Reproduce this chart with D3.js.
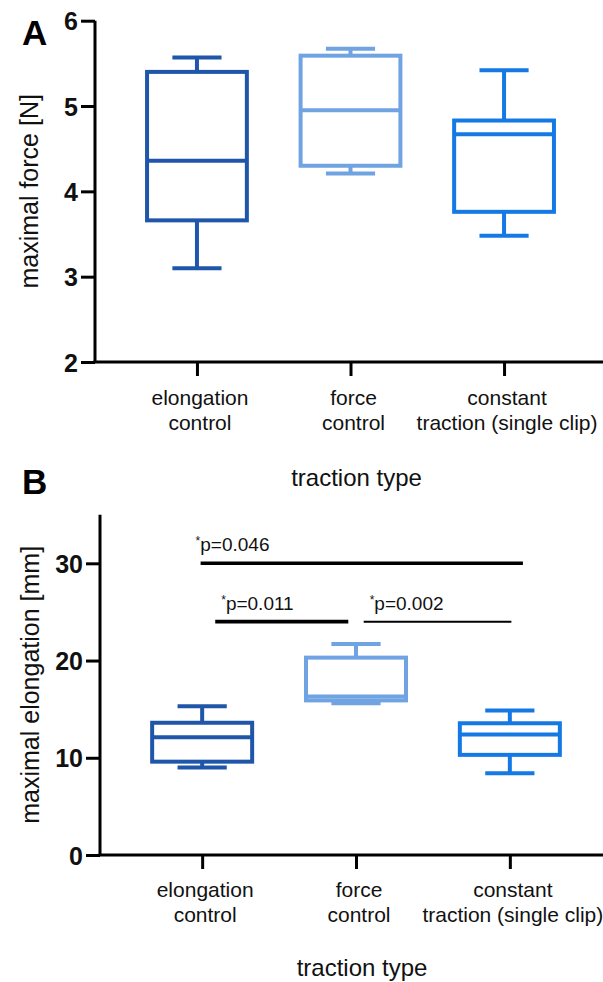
<!DOCTYPE html>
<html>
<head>
<meta charset="utf-8">
<script src="https://cdn.jsdelivr.net/npm/d3@7"></script>
<style>
  body { margin: 0; background: #fff; }
  svg { display: block; font-family: Arial, "Liberation Sans", sans-serif; }
  .tick-num { font-weight: bold; font-size: 25px; fill: #111; }
  .cat { font-size: 21px; fill: #111; }
  .title { font-size: 24px; fill: #111; }
  .ytitle { font-size: 25px; fill: #111; }
  .panel { font-size: 35px; font-weight: bold; fill: #000; }
  .sig { font-size: 19px; fill: #111; }
</style>
</head>
<body>
<svg id="chart" width="603" height="982"></svg>
<script>
const categories = ["elongation control", "force control", "constant traction (single clip)"];
const categoryLines = [["elongation", "control"], ["force", "control"], ["constant", "traction (single clip)"]];
const colors = ["#1f56aa", "#6fa3e2", "#1479e4"];

// five-number summaries: [min, q1, median, q3, max]
const forceStats = [
  [3.10, 3.66, 4.36, 5.40, 5.57],
  [4.21, 4.30, 4.95, 5.59, 5.67],
  [3.48, 3.76, 4.67, 4.83, 5.42]
];
const elongationStats = [
  [9.0, 9.6, 12.1, 13.6, 15.3],
  [15.6, 15.9, 16.3, 20.3, 21.7],
  [8.4, 10.3, 12.4, 13.55, 14.85]
];
const forceTicks = [2, 3, 4, 5, 6];
const elongationTicks = [0, 10, 20, 30];

// significance brackets for panel B
const sigBars = [
  { from: 0, to: 2, y: 30, label: "p=0.046", stroke: 3.6, off0: -0.01, off1: 0.085 },
  { from: 0, to: 1, y: 24, label: "p=0.011", stroke: 3.6, off0: 0.085, off1: -0.05 },
  { from: 1, to: 2, y: 24, label: "p=0.002", stroke: 2, off0: 0.05, off1: 0.01 }
];

const svg = d3.select("#chart");

function drawPanel({ yDomain, yRange, xRange, ticks, stats, yTitle, yTitleX, letter, letterY, catY, titleY, axisX }) {
  const x = d3.scalePoint().domain(categories).range(xRange).padding(0.664);
  const y = d3.scaleLinear().domain(yDomain).range(yRange);
  const g = svg.append("g");
  const step = x.step();

  // y axis
  const yAxis = g.append("g")
    .attr("transform", `translate(${axisX},0)`)
    .call(d3.axisLeft(y).tickValues(ticks).tickFormat(d3.format("d"))
      .tickSize(14).tickSizeOuter(0).tickPadding(3));
  yAxis.select(".domain").attr("stroke", "#000").attr("stroke-width", 3)
    .attr("d", `M0,${yRange[0]}V${yRange[1]}`);
  yAxis.selectAll(".tick line").attr("stroke", "#000").attr("stroke-width", 3);
  yAxis.selectAll(".tick text").attr("class", "tick-num").attr("font-size", null)
    .attr("font-family", null).attr("dy", "0.36em");

  // x axis
  const xAxis = g.append("g")
    .attr("transform", `translate(0,${yRange[0]})`)
    .call(d3.axisBottom(x).tickSize(14).tickSizeOuter(0).tickFormat(""));
  xAxis.select(".domain").attr("stroke", "#000").attr("stroke-width", 3)
    .attr("d", `M${axisX - 1.5},0H${xRange[1]}`);
  xAxis.selectAll(".tick line").attr("stroke", "#000").attr("stroke-width", 3);

  // category labels (two lines)
  categories.forEach((c, i) => {
    const t = g.append("text").attr("class", "cat").attr("text-anchor", "middle")
      .attr("x", x(c) + 3).attr("y", catY);
    categoryLines[i].forEach((line, j) => {
      t.append("tspan").attr("x", x(c) + 3).attr("dy", j === 0 ? 0 : 25).text(line);
    });
  });

  g.append("text").attr("class", "title").attr("text-anchor", "middle")
    .attr("x", x(categories[1]) + 6).attr("y", titleY).text("traction type");

  g.append("text").attr("class", "ytitle").attr("text-anchor", "middle")
    .attr("transform", `translate(${yTitleX},${(yRange[0] + yRange[1]) / 2}) rotate(-90)`)
    .text(yTitle);

  g.append("text").attr("class", "panel").attr("x", 22).attr("y", letterY).text(letter);

  // boxes
  const boxW = step * 0.65;
  const capW = step * 0.32;
  const boxes = g.selectAll(".box").data(stats).join("g").attr("class", "box")
    .attr("stroke", (d, i) => colors[i]).attr("stroke-width", 4).attr("fill", "none");
  boxes.each(function (d, i) {
    const cx = x(categories[i]);
    const b = d3.select(this);
    b.append("line").attr("x1", cx).attr("x2", cx).attr("y1", y(d[0])).attr("y2", y(d[1]));
    b.append("line").attr("x1", cx).attr("x2", cx).attr("y1", y(d[3])).attr("y2", y(d[4]));
    b.append("line").attr("x1", cx - capW / 2).attr("x2", cx + capW / 2).attr("y1", y(d[0])).attr("y2", y(d[0]));
    b.append("line").attr("x1", cx - capW / 2).attr("x2", cx + capW / 2).attr("y1", y(d[4])).attr("y2", y(d[4]));
    b.append("rect").attr("x", cx - boxW / 2).attr("width", boxW)
      .attr("y", y(d[3])).attr("height", y(d[1]) - y(d[3])).attr("fill", "#fff");
    b.append("line").attr("x1", cx - boxW / 2).attr("x2", cx + boxW / 2).attr("y1", y(d[2])).attr("y2", y(d[2]));
  });

  return { x, y, g, step };
}

drawPanel({
  yDomain: [2, 6], yRange: [362, 20.7], xRange: [95, 606],
  ticks: forceTicks, stats: forceStats, yTitle: "maximal force [N]", yTitleX: 38,
  letter: "A", letterY: 45, catY: 405, titleY: 486, axisX: 95
});

const pB = drawPanel({
  yDomain: [0, 35], yRange: [855, 514.7], xRange: [100, 612],
  ticks: elongationTicks, stats: elongationStats, yTitle: "maximal elongation [mm]", yTitleX: 39,
  letter: "B", letterY: 494, catY: 897, titleY: 976, axisX: 100
});

const sig = pB.g.append("g");
sigBars.forEach(s => {
  const x1 = pB.x(categories[s.from]) + s.off0 * pB.step;
  const x2 = pB.x(categories[s.to]) + s.off1 * pB.step;
  const yy = pB.y(s.y);
  sig.append("line").attr("x1", x1).attr("x2", x2).attr("y1", yy).attr("y2", yy)
    .attr("stroke", "#000").attr("stroke-width", s.stroke);
  const t = sig.append("text").attr("class", "sig").attr("x", x1 + (s.from === 0 && s.to === 2 ? -5 : 6)).attr("y", yy - 12);
  t.append("tspan").attr("font-size", 12).attr("dy", -6).text("*");
  t.append("tspan").attr("dy", 6).text(s.label);
});
</script>
</body>
</html>
